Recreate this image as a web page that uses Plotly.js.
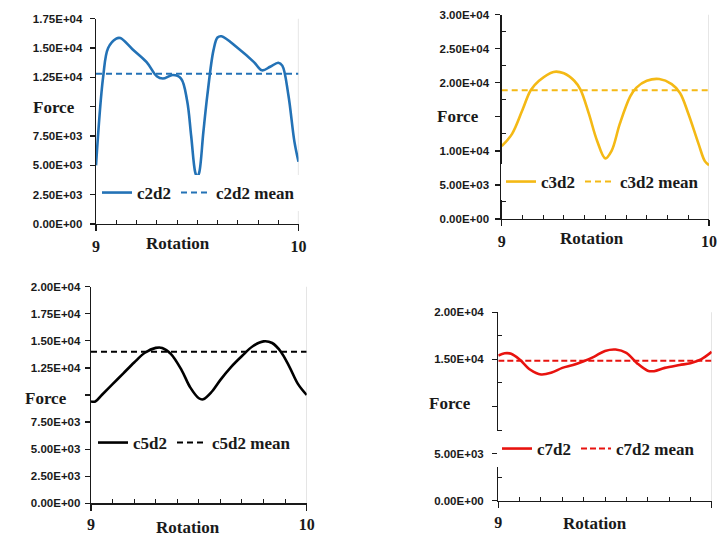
<!DOCTYPE html>
<html>
<head>
<meta charset="utf-8">
<script src="https://cdn.plot.ly/plotly-3.0.1.min.js"></script>
<style>html,body{margin:0;padding:0;background:#fff;}#chart{width:718px;height:537px;}</style>
</head>
<body>
<div id="chart"></div>
<script>
// ---- data ----
const rot_c2d2   = [9.0, 9.035, 9.06, 9.1, 9.12, 9.18, 9.25, 9.3, 9.33, 9.38, 9.42, 9.45, 9.47, 9.49, 9.5, 9.51, 9.53, 9.55, 9.58, 9.6, 9.62, 9.7, 9.78, 9.82, 9.86, 9.9, 9.92, 9.95, 9.98, 10.0];
const force_c2d2 = [5000, 12500, 15000, 15800, 15850, 14900, 13800, 12600, 12400, 12700, 12400, 10500, 7500, 4400, 4000, 4400, 7800, 11000, 14800, 15900, 16000, 15000, 13800, 13100, 13400, 13750, 13500, 11000, 7000, 5300];
const mean_c2d2 = 12800;

const rot_c3d2   = [9.0, 9.05, 9.1, 9.14, 9.18, 9.25, 9.3, 9.35, 9.38, 9.42, 9.46, 9.5, 9.53, 9.57, 9.62, 9.65, 9.7, 9.76, 9.82, 9.86, 9.9, 9.95, 9.98, 10.0];
const force_c3d2 = [10700, 12500, 16000, 18900, 20300, 21600, 21400, 20300, 19000, 15500, 11500, 8900, 10000, 14000, 18000, 19300, 20300, 20550, 19800, 18500, 15500, 11000, 8500, 7900];
const mean_c3d2 = 18900;

const rot_c5d2   = [9.0, 9.02, 9.05, 9.1, 9.15, 9.2, 9.25, 9.3, 9.33, 9.37, 9.42, 9.46, 9.5, 9.52, 9.56, 9.6, 9.65, 9.7, 9.75, 9.8, 9.84, 9.88, 9.92, 9.96, 10.0];
const force_c5d2 = [9400, 9400, 10000, 11000, 12000, 13000, 13900, 14350, 14350, 13800, 12300, 10700, 9700, 9600, 10300, 11400, 12600, 13600, 14500, 14950, 14800, 14000, 12600, 11000, 10000];
const mean_c5d2 = 14000;

const rot_c7d2   = [9.0, 9.03, 9.06, 9.1, 9.15, 9.2, 9.25, 9.3, 9.35, 9.4, 9.45, 9.5, 9.55, 9.6, 9.65, 9.7, 9.73, 9.78, 9.85, 9.9, 9.95, 10.0];
const force_c7d2 = [15400, 15650, 15600, 15000, 13900, 13400, 13600, 14100, 14400, 14800, 15300, 15900, 16050, 15700, 14600, 13800, 13750, 14100, 14400, 14600, 15000, 15800];
const mean_c7d2 = 14850;

const xTicks = [9, 10];
const xTickText = ['9', '10'];

const y1Vals = [0, 2500, 5000, 7500, 10000, 12500, 15000, 17500];
const y1Text = ['0.00E+00', '2.50E+03', '5.00E+03', '7.50E+03', '', '1.25E+04', '1.50E+04', '1.75E+04'];
const y2Vals = [0, 5000, 10000, 15000, 20000, 25000, 30000];
const y2Text = ['0.00E+00', '5.00E+03', '1.00E+04', '', '2.00E+04', '2.50E+04', '3.00E+04'];
const y3Vals = [0, 2500, 5000, 7500, 10000, 12500, 15000, 17500, 20000];
const y3Text = ['0.00E+00', '2.50E+03', '5.00E+03', '7.50E+03', '', '1.25E+04', '1.50E+04', '1.75E+04', '2.00E+04'];
const y4Vals = [0, 5000, 10000, 15000, 20000];
const y4Text = ['0.00E+00', '5.00E+03', '', '1.50E+04', '2.00E+04'];

// ---- styling ----
const serif = 'Liberation Serif, Times New Roman, serif';
const sans = 'Liberation Sans, Arial, sans-serif';
const ink = '#1a1a1a';

const minorX = [];
for (let i = 1; i < 10; i++) minorX.push(9 + i / 10);

function xAxis(domain, anchor, standoff) {
  return {
    domain: domain, anchor: anchor, range: [9, 10],
    showline: true, linecolor: ink, linewidth: 1.3,
    showgrid: false, zeroline: false,
    tickmode: 'array', tickvals: xTicks, ticktext: xTickText,
    ticks: 'outside', ticklen: 6, tickcolor: ink, tickwidth: 1.2,
    ticklabelstandoff: standoff,
    tickfont: {family: serif, size: 16, color: ink, weight: 'bold'},
    minor: {tickvals: minorX, ticks: 'inside', ticklen: 4, tickcolor: ink, tickwidth: 1, showgrid: false},
    fixedrange: true
  };
}
function yAxis(domain, anchor, range, vals, text, minorVals, standoff) {
  const a = {
    domain: domain, anchor: anchor, range: range,
    showline: true, linecolor: ink, linewidth: 1.3,
    showgrid: false, zeroline: false,
    tickmode: 'array', tickvals: vals, ticktext: text,
    ticks: 'outside', ticklen: 5, tickcolor: ink, tickwidth: 1.2,
    ticklabelstandoff: standoff,
    tickfont: {family: sans, size: 11.5, color: ink, weight: 'bold'},
    fixedrange: true
  };
  if (minorVals) a.minor = {tickvals: minorVals, ticks: 'inside', ticklen: 4, tickcolor: ink, tickwidth: 1, showgrid: false};
  return a;
}

function pair(name, xs, ys, mean, color, xa, ya, legend, dash) {
  return [
    {x: xs, y: ys, name: name, type: 'scatter', mode: 'lines', line: {color: color, width: 2.6, shape: 'spline', smoothing: 1}, xaxis: xa, yaxis: ya, legend: legend},
    {x: [9, 10], y: [mean, mean], name: name + ' mean', type: 'scatter', mode: 'lines', line: {color: color, width: 2, dash: dash}, xaxis: xa, yaxis: ya, legend: legend}
  ];
}

const traces = [].concat(
  pair('c2d2', rot_c2d2, force_c2d2, mean_c2d2, '#2372b6', 'x', 'y', 'legend', '6px,4px'),
  pair('c3d2', rot_c3d2, force_c3d2, mean_c3d2, '#f4b915', 'x2', 'y2', 'legend2', '6px,4px'),
  pair('c5d2', rot_c5d2, force_c5d2, mean_c5d2, '#000000', 'x3', 'y3', 'legend3', '6px,4px'),
  pair('c7d2', rot_c7d2, force_c7d2, mean_c7d2, '#e8130f', 'x4', 'y4', 'legend4', '6px,3px')
);

const W = 718, H = 537;
const px = v => v / W;
const py = v => 1 - v / H;

function legendAt(x, y) {
  return {
    x: px(x), y: py(y), xanchor: 'left', yanchor: 'middle',
    orientation: 'h', bgcolor: 'rgba(255,255,255,1)', borderwidth: 0,
    font: {family: serif, size: 17, color: ink, weight: 'bold'},
    itemwidth: 30, tracegroupgap: 0, traceorder: 'normal'
  };
}

function label(text, x, y) {
  return {text: text, x: px(x), y: py(y), xref: 'paper', yref: 'paper', showarrow: false,
    xanchor: 'center', yanchor: 'middle',
    font: {family: serif, size: 17, color: ink, weight: 'bold'}};
}

function edge(xa, ya) {
  return {type: 'line', xref: xa, yref: ya + ' domain', x0: 10, x1: 10, y0: 0, y1: 1,
    line: {color: '#d6d6d6', width: 1.2}, layer: 'below'};
}

const layout = {
  width: W, height: H,
  margin: {l: 0, r: 0, t: 0, b: 0},
  paper_bgcolor: '#fff', plot_bgcolor: '#fff',
  showlegend: true,
  xaxis: xAxis([px(96), px(298.5)], 'y', 1),
  yaxis: yAxis([py(224), py(18.7)], 'x', [0, 17500], y1Vals, y1Text, null, 5),
  xaxis2: xAxis([px(501.7), px(709)], 'y2', 1),
  yaxis2: yAxis([py(219), py(14.7)], 'x2', [0, 30000], y2Vals, y2Text, [2500, 7500, 12500, 17500, 22500, 27500], 4),
  xaxis3: xAxis([px(91), px(306.7)], 'y3', 0),
  yaxis3: yAxis([py(503.3), py(286.7)], 'x3', [0, 20000], y3Vals, y3Text, null, 2),
  xaxis4: xAxis([px(498.3), px(711.7)], 'y4', 1),
  yaxis4: yAxis([py(500.7), py(312.3)], 'x4', [0, 20000], y4Vals, y4Text, [2500, 7500, 12500, 17500], 6),
  legend: legendAt(97, 193),
  legend2: legendAt(501, 182),
  legend3: legendAt(93, 443),
  legend4: legendAt(497, 449),
  annotations: [
    label('Force', 54, 107), label('Rotation', 177.5, 243),
    label('Force', 457.5, 116), label('Rotation', 591.5, 238),
    label('Force', 45.7, 398), label('Rotation', 187.5, 527),
    label('Force', 449.5, 403), label('Rotation', 595, 523)
  ],
  shapes: [edge('x', 'y'), edge('x2', 'y2'), edge('x3', 'y3'), edge('x4', 'y4')]
};

Plotly.newPlot('chart', traces, layout, {displayModeBar: false, staticPlot: true});
</script>
</body>
</html>
